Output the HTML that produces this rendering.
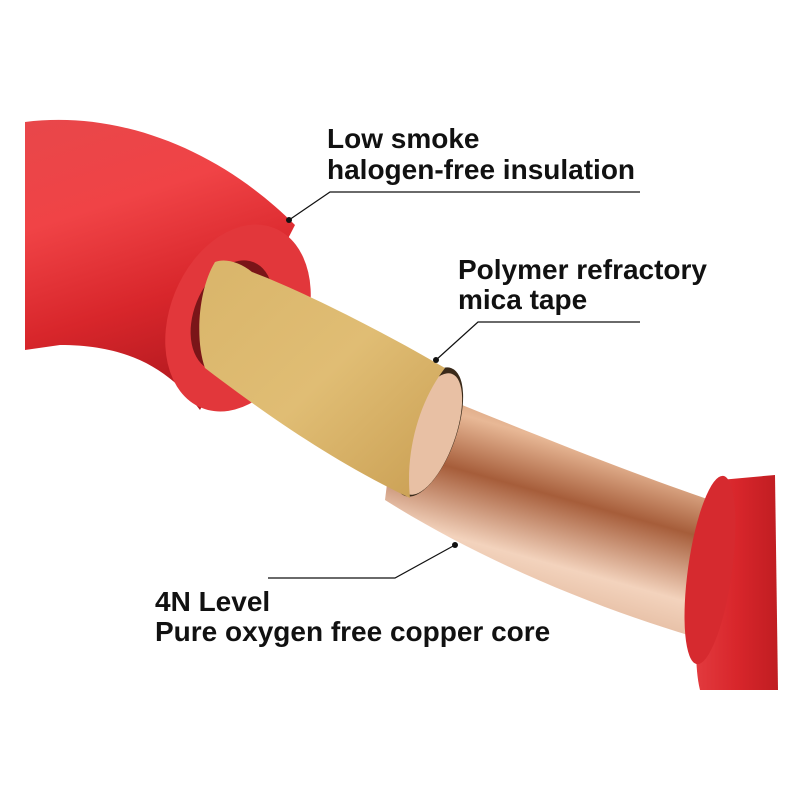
<!DOCTYPE html>
<html><head><style>
html,body{margin:0;padding:0;background:#fff;}
svg{display:block}
text{font-family:"Liberation Sans",sans-serif;font-weight:bold;font-size:28px;fill:#111}
</style></head><body>
<svg width="800" height="800" viewBox="0 0 800 800">
<defs>
<linearGradient id="red" x1="0" y1="0" x2="0.3" y2="1">
<stop offset="0" stop-color="#e8474a"/><stop offset="0.35" stop-color="#f04346"/><stop offset="0.7" stop-color="#d8262b"/><stop offset="1" stop-color="#b51a20"/></linearGradient>
<linearGradient id="cu" x1="0" y1="0" x2="0" y2="1" gradientTransform="rotate(20 .5 .5)">
<stop offset="0" stop-color="#b8784f"/><stop offset="0.25" stop-color="#e8b896"/><stop offset="0.45" stop-color="#a65d3a"/><stop offset="0.7" stop-color="#f3d3bd"/><stop offset="1" stop-color="#d7a788"/></linearGradient>
<linearGradient id="mica" x1="0" y1="0" x2="1" y2="1">
<stop offset="0" stop-color="#d9b56a"/><stop offset="0.5" stop-color="#e0bd74"/><stop offset="1" stop-color="#c99e52"/></linearGradient>
<linearGradient id="red2" x1="0" y1="0" x2="1" y2="0">
<stop offset="0" stop-color="#e23a3e"/><stop offset="0.5" stop-color="#d8262b"/><stop offset="1" stop-color="#c01d22"/></linearGradient>
</defs>
<!-- copper core -->
<path d="M400 380 C500 420 620 470 725 505 L705 640 C600 610 480 560 385 500 Z" fill="url(#cu)"/>
<!-- right red end -->
<path d="M720 480 L775 475 L778 690 L700 690 C690 650 700 560 720 480 Z" fill="url(#red2)"/>
<ellipse cx="710" cy="570" rx="22" ry="95" transform="rotate(8 710 570)" fill="#d62a2f"/>
<!-- mica tape end -->
<ellipse cx="428" cy="432" rx="28" ry="68" transform="rotate(20 428 432)" fill="#3a2a1a"/>
<ellipse cx="430" cy="434" rx="25" ry="64" transform="rotate(20 430 434)" fill="#e8c0a4"/>
<!-- red insulation left -->
<path d="M25 122 C120 110 220 150 295 225 L200 410 C170 370 130 345 60 345 L25 350 Z" fill="url(#red)"/>
<ellipse cx="238" cy="318" rx="68" ry="97" transform="rotate(22 238 318)" fill="#e2373b"/>
<ellipse cx="232" cy="316" rx="38" ry="58" transform="rotate(22 232 316)" fill="#7a1518"/>
<path d="M215 262 C225 258 240 262 252 272 C300 290 380 330 445 368 C420 400 405 450 410 498 C330 460 260 410 205 368 C195 340 198 290 215 262 Z" fill="url(#mica)"/>
<!-- leader lines -->
<g stroke="#111" stroke-width="1.2" fill="none">
<polyline points="289,220 330,192 640,192"/>
<polyline points="436,360 478,322 640,322"/>
<polyline points="455,545 395,578 268,578"/>
</g>
<circle cx="289" cy="220" r="3" fill="#111"/>
<circle cx="436" cy="360" r="3" fill="#111"/>
<circle cx="455" cy="545" r="3" fill="#111"/>
<text x="327" y="148">Low smoke</text>
<text x="327" y="179">halogen-free insulation</text>
<text x="458" y="279">Polymer refractory</text>
<text x="458" y="309">mica tape</text>
<text x="155" y="611">4N Level</text>
<text x="155" y="641">Pure oxygen free copper core</text>
</svg>
</body></html>
